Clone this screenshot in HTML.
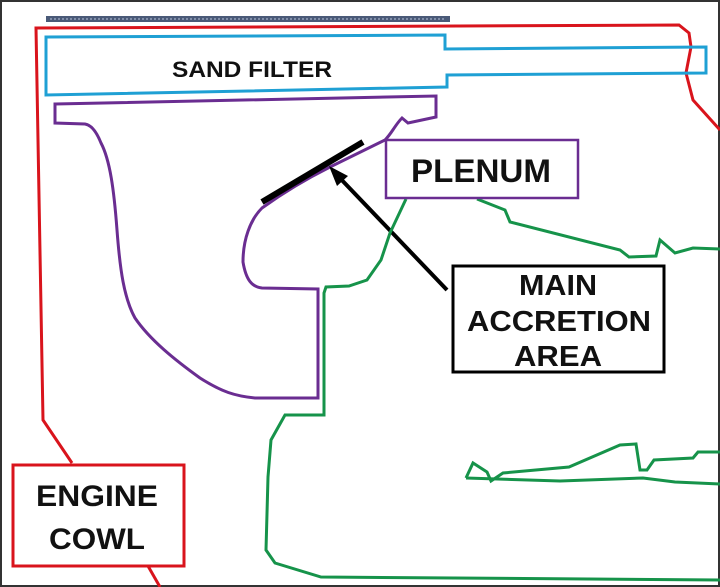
<!DOCTYPE html>
<html><head><style>
html,body{margin:0;padding:0;background:#fff}
svg{display:block}
text{font-family:"Liberation Sans",sans-serif;font-weight:bold;fill:#111}
</style></head><body>
<svg width="720" height="587" viewBox="0 0 720 587" xmlns="http://www.w3.org/2000/svg">
<rect x="1" y="1" width="718" height="585" fill="#fff" stroke="#333" stroke-width="2"/>
<rect x="46" y="16" width="404" height="6" fill="#4a5a78"/>
<line x1="50" y1="19" x2="446" y2="19" stroke="#b8c4dc" stroke-width="1" stroke-dasharray="2,2"/>
<g fill="none" stroke="#d9141c" stroke-width="3">
<polyline points="160,587 148,566"/>
<polyline points="72,463 43,420 36,28 679,25 689,33 691,47 686,73 693,100 720,130"/>
<rect x="13" y="465" width="171" height="101"/>
</g>
<polygon points="46,37 445,35 445,49 706,47 706,73 447,75 447,87 46,95" fill="none" stroke="#1fa0d4" stroke-width="3"/>
<text x="252" y="77" font-size="22" text-anchor="middle" textLength="160" lengthAdjust="spacingAndGlyphs">SAND FILTER</text>
<path d="M55,104 L436,96 L436,117 L408,123 L402,118 C395,125 392,133 385,140 L330,167 C300,182 280,195 262,208 C250,220 243,240 243,262 C246,280 252,287 262,288 L318,289 L318,398 L255,398 C235,396 222,392 200,378 C175,360 150,340 135,318 C124,298 120,270 117,230 C114,190 110,160 101,143 C97,133 92,125 85,124 L55,123 Z" fill="none" stroke="#6a2d91" stroke-width="3"/>
<line x1="262" y1="202" x2="363" y2="142" stroke="#000" stroke-width="6"/>
<line x1="447" y1="290" x2="336" y2="174" stroke="#000" stroke-width="4"/>
<polygon points="329,166 348,176 337,186" fill="#000"/>
<g fill="none" stroke="#16934a" stroke-width="3">
<polyline points="406,199 390,233 381,260 367,280 349,286 326,287 324,293 324,415 285,415 271,440 268,477 266,550 275,563 321,577 720,580"/>
<polyline points="477,199 505,210 510,222 620,250 629,257 656,256 660,240 675,253 693,248 720,249"/>
<polyline points="466,478 473,463 487,472 491,481 503,473 569,467 620,445 636,444 640,470 647,470 654,460 693,458 698,452 720,452"/>
<polyline points="466,478 560,481 643,478 675,482 720,484"/>
</g>
<rect x="386" y="140" width="192" height="58" fill="none" stroke="#6a2d91" stroke-width="2.5"/>
<text x="481" y="182" font-size="32" text-anchor="middle" textLength="140" lengthAdjust="spacingAndGlyphs">PLENUM</text>
<rect x="453" y="266" width="211" height="106" fill="#fff" stroke="#000" stroke-width="3"/>
<text x="558" y="295" font-size="29" text-anchor="middle" textLength="78" lengthAdjust="spacingAndGlyphs">MAIN</text>
<text x="559" y="331" font-size="29" text-anchor="middle" textLength="184" lengthAdjust="spacingAndGlyphs">ACCRETION</text>
<text x="558" y="366" font-size="29" text-anchor="middle" textLength="88" lengthAdjust="spacingAndGlyphs">AREA</text>
<text x="97" y="506" font-size="30" text-anchor="middle" textLength="122" lengthAdjust="spacingAndGlyphs">ENGINE</text>
<text x="97" y="549" font-size="30" text-anchor="middle" textLength="96" lengthAdjust="spacingAndGlyphs">COWL</text>
</svg>
</body></html>
